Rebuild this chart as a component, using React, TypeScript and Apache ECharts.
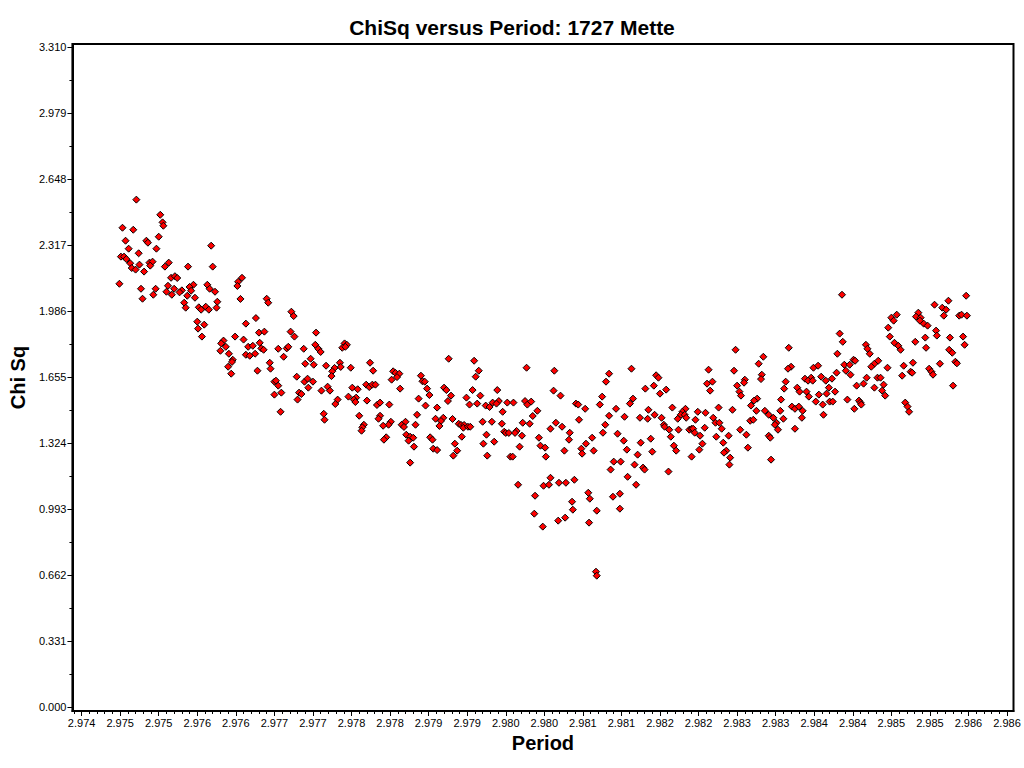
import React, { useEffect, useRef } from "react";
import * as echarts from "echarts";

const titleText = "ChiSq versus Period: 1727 Mette";
const xAxisName = "Period";
const yAxisName = "Chi Sq";

const xTickValues = [
  2.9742, 2.9747, 2.9752, 2.9757, 2.9762, 2.9767, 2.9772, 2.9777, 2.9782, 2.9787,
  2.9792, 2.9797, 2.9802, 2.9807, 2.9812, 2.9817, 2.9822, 2.9827, 2.9832, 2.9837,
  2.9842, 2.9847, 2.9852, 2.9857, 2.9862,
];
const xTickLabels = [
  "2.974", "2.975", "2.975", "2.976", "2.976", "2.977", "2.977", "2.978", "2.978", "2.979",
  "2.979", "2.980", "2.980", "2.981", "2.981", "2.982", "2.982", "2.983", "2.983", "2.984",
  "2.984", "2.985", "2.985", "2.986", "2.986",
];
const yTickValues = [0, 0.331, 0.662, 0.993, 1.324, 1.655, 1.986, 2.317, 2.648, 2.979, 3.31];
const yTickLabels = ["0.000", "0.331", "0.662", "0.993", "1.324", "1.655", "1.986", "2.317", "2.648", "2.979", "3.310"];

const X_MIN = 2.974081;
const X_MAX = 2.986284;
const Y_MIN = -0.0186;
const Y_MAX = 3.3265;

const periods = [
  2.97491, 2.97522, 2.97525, 2.97526, 2.97473, 2.97487, 2.97520, 2.97504, 2.97506, 2.97477,
  2.97588, 2.97481, 2.97517, 2.97494, 2.97471, 2.97475, 2.97478, 2.97483, 2.97508, 2.97512,
  2.97509, 2.97495, 2.97533, 2.97528, 2.97558, 2.97590, 2.97485, 2.97490, 2.97501, 2.97536,
  2.97541, 2.97544, 2.97469, 2.97532, 2.97497, 2.97516, 2.97540, 2.97565, 2.97560, 2.97583,
  2.97586, 2.97593, 2.97562, 2.97550, 2.97547, 2.97530, 2.97537, 2.97513, 2.97557, 2.97499,
  2.97567, 2.97596, 2.97553, 2.97555, 2.97572, 2.97575, 2.97581, 2.97585, 2.97595, 2.97570,
  2.97579, 2.97571, 2.97576,
  2.97628, 2.97623, 2.97622, 2.97626, 2.97660, 2.97662, 2.97692, 2.97695, 2.97646, 2.97633,
  2.97691, 2.97696, 2.97724, 2.97650, 2.97657, 2.97619, 2.97630, 2.97604, 2.97601, 2.97607,
  2.97636, 2.97642, 2.97651, 2.97653, 2.97656, 2.97675, 2.97686, 2.97688, 2.97708, 2.97723,
  2.97727, 2.97730, 2.97600, 2.97611, 2.97633, 2.97638, 2.97645, 2.97682, 2.97616, 2.97615,
  2.97717, 2.97710, 2.97721, 2.97737, 2.97664, 2.97665, 2.97610, 2.97648, 2.97614, 2.97699,
  2.97670, 2.97672, 2.97675, 2.97709, 2.97713, 2.97720, 2.97714, 2.97739, 2.97731, 2.97679,
  2.97670, 2.97702, 2.97705, 2.97700, 2.97678, 2.97734, 2.97735,
  2.97761, 2.97764, 2.97758, 2.97762, 2.97794, 2.97755, 2.97756, 2.97748, 2.97745, 2.97769,
  2.97798, 2.97824, 2.97827, 2.97832, 2.97829, 2.97822, 2.97860, 2.97862, 2.97865, 2.97744,
  2.97789, 2.97793, 2.97797, 2.97801, 2.97742, 2.97771, 2.97778, 2.97833, 2.97868, 2.97871,
  2.97766, 2.97776, 2.97773, 2.97775, 2.97752, 2.97749, 2.97790, 2.97857, 2.97803, 2.97807,
  2.97819, 2.97866, 2.97881, 2.97780, 2.97807, 2.97805, 2.97855, 2.97879, 2.97821, 2.97818,
  2.97811, 2.97786, 2.97784, 2.97783, 2.97835, 2.97840, 2.97838, 2.97853, 2.97841, 2.97846,
  2.97850, 2.97844, 2.97872, 2.97875, 2.97815, 2.97812, 2.97851, 2.97876, 2.97881, 2.97846,
  2.97896, 2.97929, 2.97997, 2.97935, 2.97931, 2.97890, 2.97893, 2.97927, 2.97959, 2.97899,
  2.97937, 2.97919, 2.97895, 2.97953, 2.97961, 2.97958, 2.97972, 2.97980, 2.97995, 2.97998,
  2.98003, 2.97923, 2.97933, 2.97944, 2.97949, 2.98011, 2.97966, 2.98005, 2.97889, 2.97901,
  2.97886, 2.97884, 2.97909, 2.97912, 2.97916, 2.97915, 2.97921, 2.97924, 2.97940, 2.97952,
  2.97965, 2.97992, 2.98001, 2.97968, 2.97970, 2.97974, 2.97984, 2.97982, 2.97913, 2.97945,
  2.97991, 2.98013, 2.97904, 2.97941, 2.97955, 2.97988, 2.98015, 2.98021, 2.97907, 2.97902,
  2.97946, 2.97976, 2.97979, 2.98022, 2.97986, 2.98019, 2.98008, 2.98007, 2.98018,
  2.98033, 2.98104, 2.98133, 2.98100, 2.98165, 2.98032, 2.98041, 2.98151, 2.98162, 2.98095,
  2.98135, 2.98061, 2.98064, 2.98073, 2.98092, 2.98131, 2.98113, 2.98155, 2.98104, 2.98124,
  2.98144, 2.98154, 2.98163, 2.98065, 2.98035, 2.98043, 2.98028, 2.98099, 2.98053, 2.98096,
  2.98115, 2.98082, 2.98052, 2.98123, 2.98158, 2.98145, 2.98074, 2.98068, 2.98069, 2.98046,
  2.98084, 2.98127, 2.98141, 2.98160, 2.98110, 2.98119, 2.98137, 2.98148, 2.98150, 2.98106,
  2.98128, 2.98139, 2.98028, 2.98026, 2.98039, 2.98048, 2.98059, 2.98077, 2.98079, 2.98109,
  2.98118, 2.98056, 2.98057, 2.98088, 2.98118, 2.98047, 2.98038, 2.98078, 2.98087, 2.98088,
  2.98268, 2.98304, 2.98298, 2.98233, 2.98266, 2.98302, 2.98301, 2.98168, 2.98231, 2.98238,
  2.98280, 2.98279, 2.98270, 2.98235, 2.98273, 2.98275, 2.98178, 2.98170, 2.98296, 2.98292,
  2.98288, 2.98186, 2.98203, 2.98199, 2.98246, 2.98264, 2.98295, 2.98306, 2.98219, 2.98229,
  2.98197, 2.98202, 2.98204, 2.98193, 2.98172, 2.98239, 2.98216, 2.98242, 2.98247, 2.98287,
  2.98291, 2.98175, 2.98176, 2.98228, 2.98250, 2.98182, 2.98194, 2.98208, 2.98211, 2.98213,
  2.98215, 2.98274, 2.98222, 2.98243, 2.98259, 2.98282, 2.98184, 2.98252, 2.98225, 2.98188,
  2.98191, 2.98221, 2.98284, 2.98256, 2.98253, 2.98211, 2.98261, 2.98260, 2.98181,
  2.98406, 2.98403, 2.98407, 2.98437, 2.98439, 2.98442, 2.98400, 2.98337, 2.98421, 2.98423,
  2.98409, 2.98416, 2.98411, 2.98417, 2.98399, 2.98448, 2.98444, 2.98340, 2.98336, 2.98369,
  2.98375, 2.98438, 2.98379, 2.98358, 2.98366, 2.98362, 2.98368, 2.98385, 2.98393, 2.98333,
  2.98434, 2.98425, 2.98448, 2.98331, 2.98348, 2.98351, 2.98389, 2.98360, 2.98397, 2.98363,
  2.98376, 2.98386, 2.98413, 2.98327, 2.98372, 2.98390, 2.98394, 2.98428, 2.98430, 2.98431,
  2.98381, 2.98341, 2.98345, 2.98350, 2.98355, 2.98422, 2.98326, 2.98382, 2.98311, 2.98317,
  2.98330, 2.98354, 2.98321, 2.98319, 2.98323, 2.98345, 2.98311, 2.98313, 2.98314,
  2.98567, 2.98544, 2.98526, 2.98536, 2.98541, 2.98538, 2.98558, 2.98561, 2.98568, 2.98505,
  2.98502, 2.98508, 2.98507, 2.98512, 2.98517, 2.98477, 2.98470, 2.98473, 2.98466, 2.98528,
  2.98529, 2.98546, 2.98563, 2.98565, 2.98514, 2.98468, 2.98474, 2.98479, 2.98482, 2.98501,
  2.98515, 2.98545, 2.98549, 2.98553, 2.98555, 2.98533, 2.98498, 2.98486, 2.98453, 2.98465,
  2.98519, 2.98522, 2.98524, 2.98495, 2.98497, 2.98484, 2.98452, 2.98456, 2.98460, 2.98458,
  2.98462, 2.98550, 2.98488, 2.98491, 2.98493,
];

const chiSq = [
  2.546, 2.470, 2.432, 2.415, 2.405, 2.395, 2.360, 2.340, 2.330, 2.340,
  2.315, 2.300, 2.300, 2.277, 2.260, 2.260, 2.248, 2.227, 2.230, 2.235,
  2.215, 2.220, 2.230, 2.210, 2.210, 2.210, 2.203, 2.195, 2.185, 2.154,
  2.162, 2.153, 2.124, 2.114, 2.099, 2.099, 2.099, 2.119, 2.108, 2.119,
  2.099, 2.084, 2.089, 2.091, 2.081, 2.084, 2.069, 2.069, 2.064, 2.049,
  2.054, 2.034, 2.029, 2.004, 2.006, 1.994, 2.009, 1.994, 2.004, 1.934,
  1.919, 1.899, 1.859,
  2.154, 2.134, 2.113, 2.048, 2.049, 2.029, 1.984, 1.962, 1.952, 1.924,
  1.884, 1.859, 1.879, 1.879, 1.884, 1.859, 1.844, 1.839, 1.825, 1.808,
  1.808, 1.813, 1.828, 1.800, 1.793, 1.798, 1.800, 1.808, 1.798, 1.818,
  1.798, 1.782, 1.788, 1.773, 1.768, 1.763, 1.773, 1.758, 1.743, 1.732,
  1.748, 1.723, 1.718, 1.713, 1.728, 1.698, 1.708, 1.688, 1.673, 1.658,
  1.633, 1.638, 1.613, 1.633, 1.648, 1.633, 1.603, 1.608, 1.588, 1.578,
  1.568, 1.578, 1.571, 1.543, 1.482, 1.472, 1.442,
  1.825, 1.818, 1.803, 1.808, 1.728, 1.728, 1.707, 1.702, 1.685, 1.703,
  1.688, 1.685, 1.677, 1.673, 1.656, 1.643, 1.663, 1.635, 1.633, 1.661,
  1.618, 1.606, 1.618, 1.618, 1.588, 1.603, 1.595, 1.598, 1.598, 1.566,
  1.558, 1.553, 1.543, 1.531, 1.543, 1.521, 1.538, 1.548, 1.516, 1.528,
  1.518, 1.513, 1.503, 1.462, 1.462, 1.447, 1.467, 1.447, 1.432, 1.417,
  1.412, 1.417, 1.404, 1.387, 1.417, 1.432, 1.406, 1.417, 1.367, 1.357,
  1.352, 1.337, 1.354, 1.342, 1.354, 1.342, 1.307, 1.297, 1.290, 1.227,
  1.748, 1.738, 1.703, 1.688, 1.658, 1.603, 1.591, 1.591, 1.591, 1.563,
  1.563, 1.553, 1.536, 1.528, 1.536, 1.523, 1.528, 1.528, 1.536, 1.518,
  1.533, 1.518, 1.523, 1.513, 1.506, 1.487, 1.482, 1.461, 1.452, 1.446,
  1.436, 1.411, 1.422, 1.416, 1.416, 1.402, 1.407, 1.407, 1.432, 1.432,
  1.422, 1.427, 1.422, 1.382, 1.376, 1.376, 1.386, 1.376, 1.357, 1.367,
  1.362, 1.352, 1.322, 1.322, 1.332, 1.307, 1.312, 1.302, 1.287, 1.262,
  1.262, 1.257, 1.257, 1.257, 1.116, 1.111, 1.061, 0.971, 0.906,
  1.688, 1.673, 1.698, 1.633, 1.665, 1.588, 1.563, 1.598, 1.613, 1.558,
  1.548, 1.523, 1.518, 1.497, 1.518, 1.523, 1.497, 1.492, 1.462, 1.457,
  1.452, 1.447, 1.467, 1.442, 1.427, 1.407, 1.397, 1.417, 1.377, 1.377,
  1.372, 1.352, 1.342, 1.337, 1.347, 1.327, 1.322, 1.297, 1.272, 1.287,
  1.287, 1.292, 1.267, 1.282, 1.232, 1.232, 1.217, 1.202, 1.192, 1.192,
  1.156, 1.116, 1.151, 1.116, 1.126, 1.126, 1.141, 1.076, 1.046, 1.056,
  1.071, 1.031, 0.991, 0.986, 0.996, 0.951, 0.936, 0.926, 0.680, 0.660,
  1.793, 1.758, 1.723, 1.693, 1.688, 1.668, 1.646, 1.653, 1.623, 1.633,
  1.643, 1.628, 1.613, 1.588, 1.583, 1.563, 1.593, 1.573, 1.548, 1.538,
  1.513, 1.503, 1.497, 1.482, 1.503, 1.492, 1.487, 1.487, 1.482, 1.477,
  1.467, 1.467, 1.452, 1.447, 1.452, 1.452, 1.442, 1.427, 1.427, 1.437,
  1.442, 1.417, 1.407, 1.402, 1.397, 1.392, 1.392, 1.392, 1.397, 1.397,
  1.377, 1.392, 1.362, 1.357, 1.362, 1.367, 1.357, 1.327, 1.322, 1.312,
  1.287, 1.292, 1.302, 1.287, 1.277, 1.257, 1.252, 1.217, 1.182,
  2.069, 1.874, 1.833, 1.818, 1.798, 1.773, 1.773, 1.803, 1.743, 1.738,
  1.718, 1.718, 1.688, 1.668, 1.678, 1.723, 1.708, 1.708, 1.698, 1.703,
  1.713, 1.653, 1.658, 1.648, 1.653, 1.638, 1.638, 1.638, 1.648, 1.633,
  1.623, 1.613, 1.603, 1.598, 1.603, 1.583, 1.603, 1.583, 1.583, 1.558,
  1.568, 1.573, 1.543, 1.543, 1.533, 1.533, 1.533, 1.538, 1.528, 1.518,
  1.518, 1.508, 1.497, 1.508, 1.487, 1.497, 1.487, 1.467, 1.467, 1.452,
  1.447, 1.452, 1.427, 1.417, 1.392, 1.397, 1.362, 1.352, 1.242,
  2.064, 2.039, 2.019, 2.004, 1.994, 1.964, 1.964, 1.969, 1.964, 1.979,
  1.959, 1.954, 1.939, 1.924, 1.914, 1.969, 1.954, 1.939, 1.904, 1.889,
  1.864, 1.854, 1.859, 1.818, 1.854, 1.859, 1.828, 1.813, 1.793, 1.833,
  1.803, 1.793, 1.778, 1.733, 1.725, 1.723, 1.728, 1.713, 1.738, 1.703,
  1.698, 1.683, 1.668, 1.683, 1.678, 1.663, 1.653, 1.653, 1.618, 1.588,
  1.563, 1.613, 1.528, 1.508, 1.482,
];

const FONT = "'Liberation Sans', Arial, Helvetica, sans-serif";

function buildXMinorTicks(): number[] {
  const out: number[] = [];
  const step = 0.0001;
  for (let v = xTickValues[0] - step; v > X_MIN; v -= step) out.push(+v.toFixed(5));
  for (let i = 0; i < xTickValues.length; i++) {
    for (let k = 1; k <= 4; k++) {
      const v = +(xTickValues[i] + k * step).toFixed(5);
      if (v < X_MAX) out.push(v);
    }
  }
  return out;
}

function buildYMinorTicks(): number[] {
  const out: number[] = [];
  for (let i = 0; i < yTickValues.length - 1; i++) {
    out.push(+((yTickValues[i] + yTickValues[i + 1]) / 2).toFixed(4));
  }
  return out;
}

function labelFor(values: number[], labels: string[], v: number): string {
  let best = -1;
  let bestD = Infinity;
  for (let i = 0; i < values.length; i++) {
    const d = Math.abs(values[i] - v);
    if (d < bestD) {
      bestD = d;
      best = i;
    }
  }
  return best >= 0 ? labels[best] : "";
}

export default function App() {
  const ref = useRef<HTMLDivElement>(null);

  useEffect(() => {
    if (!ref.current) return;
    const chart = echarts.init(ref.current, null, { renderer: "svg" });
    const data = periods.map((p, i) => [p, chiSq[i]]);
    const xMinor = buildXMinorTicks();
    const yMinor = buildYMinorTicks();
    const black = "#000000";

    const option: any = {
      animation: false,
      backgroundColor: "#ffffff",
      textStyle: { fontFamily: FONT },
      title: {
        text: titleText,
        left: "center",
        top: 12,
        textStyle: { fontFamily: FONT, fontSize: 21, fontWeight: "bold", color: black },
      },
      grid: {
        left: 67.5,
        right: 10.5,
        top: 44,
        bottom: 57,
        show: true,
        borderColor: black,
        borderWidth: 2,
        backgroundColor: "#ffffff",
        containLabel: false,
      },
      xAxis: [
        {
          type: "value",
          position: "bottom",
          min: X_MIN,
          max: X_MAX,
          name: xAxisName,
          nameLocation: "middle",
          nameGap: 21,
          nameTextStyle: { fontFamily: FONT, fontSize: 20, fontWeight: "bold", color: black },
          axisLine: { show: true, onZero: false, lineStyle: { color: black, width: 2 } },
          axisTick: {
            show: true,
            inside: false,
            length: 5,
            customValues: xTickValues,
            lineStyle: { color: black, width: 1 },
          },
          axisLabel: {
            show: true,
            customValues: xTickValues,
            margin: 6,
            fontFamily: FONT,
            fontSize: 11,
            color: black,
            formatter: (v: number) => labelFor(xTickValues, xTickLabels, v),
          },
          splitLine: { show: false },
        },
        {
          type: "value",
          position: "bottom",
          min: X_MIN,
          max: X_MAX,
          axisLine: { show: false, onZero: false },
          axisTick: {
            show: true,
            inside: false,
            length: 3,
            customValues: xMinor,
            lineStyle: { color: black, width: 1 },
          },
          axisLabel: { show: false },
          splitLine: { show: false },
        },
      ],
      yAxis: [
        {
          type: "value",
          position: "left",
          min: Y_MIN,
          max: Y_MAX,
          name: yAxisName,
          nameLocation: "middle",
          nameGap: 34,
          nameTextStyle: { fontFamily: FONT, fontSize: 20, fontWeight: "bold", color: black },
          axisLine: { show: true, onZero: false, lineStyle: { color: black, width: 2 } },
          axisTick: {
            show: true,
            inside: false,
            length: 5,
            customValues: yTickValues,
            lineStyle: { color: black, width: 1 },
          },
          axisLabel: {
            show: true,
            customValues: yTickValues,
            margin: 6,
            fontFamily: FONT,
            fontSize: 11,
            color: black,
            formatter: (v: number) => labelFor(yTickValues, yTickLabels, v),
          },
          splitLine: { show: false },
        },
        {
          type: "value",
          position: "left",
          min: Y_MIN,
          max: Y_MAX,
          axisLine: { show: false, onZero: false },
          axisTick: {
            show: true,
            inside: false,
            length: 3,
            customValues: yMinor,
            lineStyle: { color: black, width: 1 },
          },
          axisLabel: { show: false },
          splitLine: { show: false },
        },
      ],
      series: [
        {
          type: "scatter",
          xAxisIndex: 0,
          yAxisIndex: 0,
          symbol: "diamond",
          symbolSize: 7,
          data,
          itemStyle: { color: "#ff0000", borderColor: black, borderWidth: 1, opacity: 1 },
          emphasis: { disabled: true },
        },
      ],
    };

    chart.setOption(option);
    return () => {
      chart.dispose();
    };
  }, []);

  return (
    <div
      ref={ref}
      style={{ position: "absolute", left: 0, top: 0, width: 1024, height: 768, background: "#ffffff" }}
    />
  );
}
